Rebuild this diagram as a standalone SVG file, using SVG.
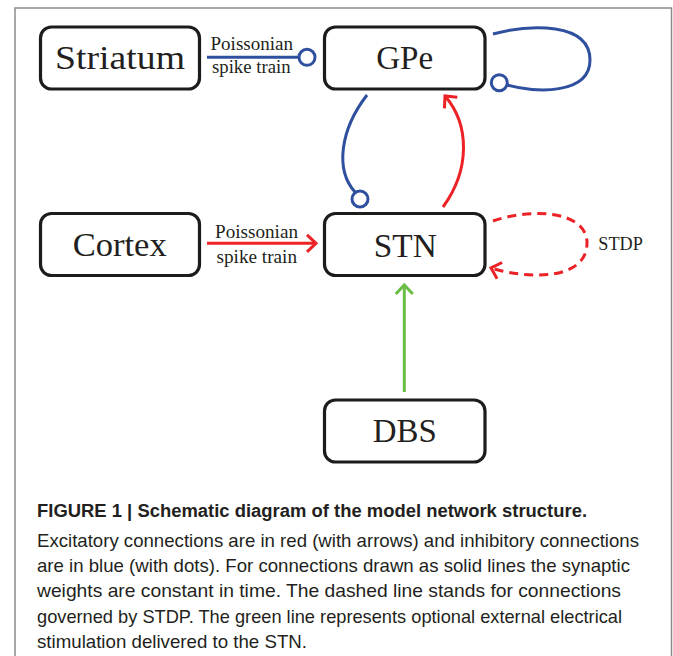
<svg xmlns="http://www.w3.org/2000/svg" width="673" height="656" viewBox="0 0 673 656">
<style>
.frame{fill:none;stroke:#8c8c8c;stroke-width:1.5}
.box{fill:#fff;stroke:#1c1c1c;stroke-width:3.2}
.ntext{font-family:"Liberation Serif","DejaVu Serif",serif;font-size:33px;fill:#231f20;text-anchor:middle}
.lbl{font-family:"Liberation Serif","DejaVu Serif",serif;font-size:18.5px;fill:#231f20}
.cap{font-family:"Liberation Sans Narrow","Liberation Sans",Arial,sans-serif;font-size:18.5px;fill:#231f20}
.bold{font-weight:bold;font-size:18px}
.c{fill:none;stroke-width:3;stroke-linecap:butt}
.blue{stroke:#2f4f9f}
.red{stroke:#ec2227}
.green{stroke:#6abd45}
.dash{stroke-dasharray:9 6}
.dot{fill:#fff;stroke:#2f4f9f;stroke-width:3}
</style>
<defs>
<marker id="arR" markerUnits="userSpaceOnUse" markerWidth="30" markerHeight="30" viewBox="-15 -15 30 30" refX="0" refY="0" orient="auto" overflow="visible">
<path d="M-9,-8.5 L0,0 L-9,8.5" fill="none" stroke="#ec2227" stroke-width="3" stroke-dasharray="none"/>
</marker>
<marker id="arG" markerUnits="userSpaceOnUse" markerWidth="30" markerHeight="30" viewBox="-15 -15 30 30" refX="0" refY="0" orient="auto" overflow="visible">
<path d="M-9,-8.5 L0,0 L-9,8.5" fill="none" stroke="#6abd45" stroke-width="3"/>
</marker>
</defs>
<path class="frame" d="M15,660 V8 H671.5 V660"/>
<g id="connectors">
<path class="c blue" d="M207,57.3 H299"/>
<circle class="dot" cx="307" cy="57.3" r="8"/>
<path class="c red" d="M207,243.3 H316" marker-end="url(#arR)"/>
<path class="c blue" d="M493,34 C530,24 590,22 590,60 C590,95 535,93 507,85"/>
<circle class="dot" cx="499.3" cy="82.7" r="8"/>
<path class="c blue" d="M367,95 C340,130 335,170 355,192"/>
<circle class="dot" cx="360" cy="199" r="8"/>
<path class="c red" d="M443,207 C470,170 470,125 445,96" marker-end="url(#arR)"/>
<path class="c red dash" d="M493,221 C530,208 587,210 587,243 C587,280 530,280 491,268" marker-end="url(#arR)"/>
<path class="c green" d="M404.3,392 V285" marker-end="url(#arG)"/>
<text class="lbl" x="210.5" y="50" textLength="82.5" lengthAdjust="spacingAndGlyphs">Poissonian</text>
<text class="lbl" x="212" y="73.3" textLength="78.5" lengthAdjust="spacingAndGlyphs">spike train</text>
<text class="lbl" x="215" y="238.3" textLength="83" lengthAdjust="spacingAndGlyphs">Poissonian</text>
<text class="lbl" x="216.5" y="262.7" textLength="80.5" lengthAdjust="spacingAndGlyphs">spike train</text>
<text class="lbl" x="598.3" y="250" font-size="16" textLength="44.5" lengthAdjust="spacingAndGlyphs">STDP</text>
</g>
<g id="striatum">
<rect class="box" x="40.5" y="27" width="159" height="62" rx="11"/>
<text class="ntext" x="120" y="69" textLength="130" lengthAdjust="spacingAndGlyphs">Striatum</text>
</g>
<g id="gpe">
<rect class="box" x="324.5" y="27" width="160.5" height="62" rx="11"/>
<text class="ntext" x="404.7" y="69" textLength="57" lengthAdjust="spacingAndGlyphs">GPe</text>
</g>
<g id="cortex">
<rect class="box" x="40.5" y="213.5" width="159" height="62" rx="11"/>
<text class="ntext" x="119.7" y="256" textLength="94" lengthAdjust="spacingAndGlyphs">Cortex</text>
</g>
<g id="stn">
<rect class="box" x="324.5" y="213.5" width="160.5" height="62" rx="11"/>
<text class="ntext" x="405.3" y="256.5" textLength="63" lengthAdjust="spacingAndGlyphs">STN</text>
</g>
<g id="dbs">
<rect class="box" x="324.5" y="400" width="160.5" height="62" rx="11"/>
<text class="ntext" x="404.7" y="442.3" textLength="64" lengthAdjust="spacingAndGlyphs">DBS</text>
</g>
<g id="caption">
<text class="cap bold" x="37" y="516.5" textLength="550" lengthAdjust="spacingAndGlyphs">FIGURE 1 | Schematic diagram of the model network structure.</text>
<text class="cap" x="37" y="546.5" textLength="602" lengthAdjust="spacingAndGlyphs">Excitatory connections are in red (with arrows) and inhibitory connections</text>
<text class="cap" x="37" y="571.7" textLength="593" lengthAdjust="spacingAndGlyphs">are in blue (with dots). For connections drawn as solid lines the synaptic</text>
<text class="cap" x="37" y="597" textLength="584" lengthAdjust="spacingAndGlyphs">weights are constant in time. The dashed line stands for connections</text>
<text class="cap" x="37" y="622.5" textLength="585" lengthAdjust="spacingAndGlyphs">governed by STDP. The green line represents optional external electrical</text>
<text class="cap" x="37" y="647.7" textLength="270" lengthAdjust="spacingAndGlyphs">stimulation delivered to the STN.</text>
</g>
</svg>
